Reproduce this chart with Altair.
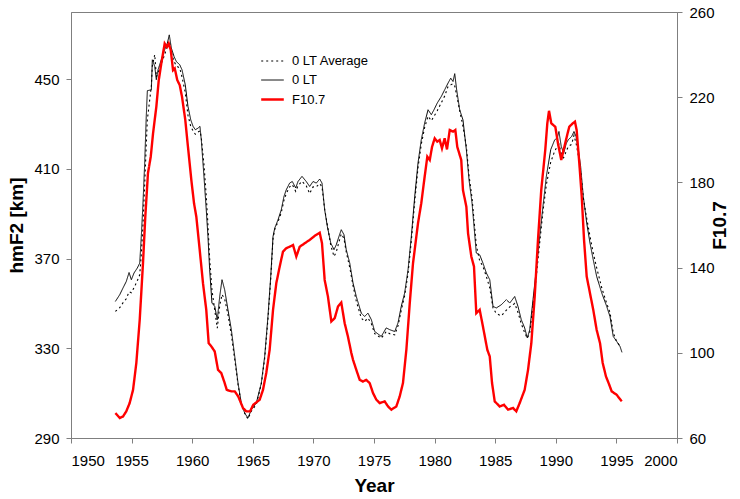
import altair as alt
import pandas as pd

# ---- data ----
years_lt = [1953.66,1954.02,1954.29,1954.56,1954.79,1954.98,1955.2,1955.47,1955.67,1955.8,
1955.94,1956.08,1956.21,1956.3,1956.63,1956.71,1956.91,1957.04,1957.18,1957.45,
1957.73,1957.95,1958.11,1958.28,1958.5,1958.69,1958.97,1959.16,1959.43,1959.65,
1959.88,1960.07,1960.26,1960.48,1960.64,1960.75,1960.97,1961.16,1961.3,1961.44,
1961.63,1961.86,1962.07,1962.27,1962.46,1962.68,1962.95,1963.23,1963.51,1963.78,
1964.05,1964.33,1964.6,1964.88,1965.29,1965.7,1965.98,1966.25,1966.48,1966.67,
1966.81,1967.08,1967.35,1967.57,1967.76,1968.04,1968.26,1968.54,1968.73,1969.06,
1969.41,1969.69,1969.97,1970.24,1970.52,1970.71,1970.93,1971.15,1971.43,1971.7,
1971.89,1972.11,1972.3,1972.52,1972.71,1973.0,1973.27,1973.54,1973.95,1974.23,
1974.5,1974.78,1975.06,1975.6,1976.01,1976.3,1976.71,1976.98,1977.25,1977.53,
1977.81,1978.08,1978.36,1978.63,1978.9,1979.18,1979.46,1979.73,1979.95,1980.22,
1980.55,1980.83,1981.11,1981.33,1981.52,1981.66,1981.82,1982.07,1982.34,1982.62,
1982.84,1983.09,1983.44,1983.72,1983.99,1984.27,1984.55,1984.82,1985.09,1985.5,
1985.92,1986.2,1986.61,1986.88,1987.15,1987.43,1987.65,1987.85,1988.12,1988.39,
1988.67,1988.94,1989.22,1989.58,1989.91,1990.12,1990.26,1990.45,1990.65,1990.87,
1991.03,1991.31,1991.5,1991.67,1991.86,1992.05,1992.27,1992.55,1992.82,1993.09,
1993.37,1993.79,1994.2,1994.47,1994.74,1995.02,1995.3,1995.46]

hmf2_lt = [350.9,353.9,356.9,359.8,363.8,360.6,363.6,365.8,368.0,379.9,
394.8,412.6,433.4,444.9,445.3,458.7,455.7,449.8,454.2,458.7,
463.2,466.1,469.8,463.9,460.2,457.9,456.5,454.2,447.5,437.9,
431.9,429.0,427.5,428.2,429.0,423.0,406.7,391.8,379.9,365.1,
350.2,348.7,342.8,353.1,360.6,356.1,347.2,338.3,326.4,314.5,
305.6,301.1,298.9,302.6,305.6,314.5,326.4,344.2,362.1,379.9,
383.6,387.3,391.8,397.7,400.7,403.7,404.4,401.5,404.4,406.7,
404.4,402.2,404.4,403.7,405.5,403.7,391.8,384.4,377.0,374.0,
376.2,379.9,382.9,380.7,374.0,368.0,359.1,353.1,345.7,344.2,
345.7,342.8,337.5,335.3,339.1,338.3,337.5,341.3,348.7,354.7,
365.1,379.9,397.7,412.6,423.0,430.5,436.4,434.2,436.4,439.4,
442.3,445.3,448.3,450.5,449.0,452.5,445.3,436.4,431.9,418.6,
405.2,394.8,372.5,371.7,368.0,363.6,360.6,348.7,348.0,349.4,
351.7,350.2,353.1,348.7,342.8,339.1,334.6,338.3,351.7,365.1,
379.9,393.3,406.7,418.6,423.0,423.8,426.7,420.0,417.1,421.5,
423.0,424.5,426.7,424.5,418.6,411.1,397.7,385.9,377.0,369.5,
362.1,354.7,348.7,344.2,335.3,333.1,330.8,328.2]

hmf2_avg = [346.5,348.1,350.3,352.1,355.2,354.8,357.0,360.1,362.8,371.7,
385.0,403.0,420.8,432.0,447.0,456.0,461.0,451.0,453.0,457.0,
461.0,465.0,467.0,462.0,458.0,456.0,455.0,451.0,444.0,434.0,
429.0,427.0,425.5,426.5,427.0,424.0,412.0,398.0,385.0,370.0,
356.0,347.0,339.0,349.0,354.0,352.0,345.0,336.0,325.0,314.0,
305.0,301.0,298.5,302.0,305.0,314.0,325.5,343.0,361.0,379.0,
383.0,386.5,390.5,396.0,399.0,402.0,403.0,400.0,402.5,404.5,
402.5,399.0,402.0,402.0,403.5,402.0,392.0,385.0,376.0,371.0,
373.0,377.5,381.0,379.0,373.0,366.0,358.0,351.0,343.5,342.0,
343.5,341.0,336.5,334.5,337.5,336.5,336.0,340.0,347.0,353.5,
363.5,378.0,395.5,410.5,421.0,428.5,433.5,431.5,433.5,436.0,
439.5,442.5,446.8,447.5,448.0,447.0,443.0,436.0,429.0,420.0,
407.0,397.0,376.0,369.0,366.5,362.0,357.0,348.0,345.5,344.5,
347.0,348.5,350.0,346.0,341.0,337.0,334.5,337.0,349.0,362.0,
377.0,391.0,403.0,413.0,418.0,420.0,421.0,417.0,415.0,418.0,
420.0,421.0,425.0,421.5,416.0,409.0,397.0,388.0,380.0,372.5,
366.0,357.0,350.0,346.0,337.0,333.0,331.0]

years_f = [1953.66,1954.02,1954.29,1954.56,1954.84,1955.12,1955.39,1955.67,1955.94,1956.13,
1956.35,1956.58,1956.77,1957.04,1957.24,1957.45,1957.73,1957.92,1958.06,1958.23,
1958.42,1958.56,1958.77,1958.97,1959.16,1959.43,1959.65,1959.93,1960.15,1960.34,
1960.62,1960.89,1961.16,1961.36,1961.58,1961.86,1962.13,1962.4,1962.68,1962.85,
1963.23,1963.51,1963.8,1964.19,1964.46,1964.77,1965.04,1965.57,1965.84,1966.11,
1966.39,1966.67,1966.94,1967.22,1967.49,1967.76,1968.04,1968.32,1968.59,1968.87,
1969.28,1969.69,1970.11,1970.52,1970.71,1970.93,1971.2,1971.48,1971.76,1972.03,
1972.3,1972.58,1972.85,1973.13,1973.27,1973.54,1973.82,1974.09,1974.36,1974.64,
1974.92,1975.19,1975.47,1975.88,1976.16,1976.43,1976.84,1977.12,1977.39,1977.67,
1977.95,1978.22,1978.63,1978.9,1979.18,1979.4,1979.6,1979.79,1980.01,1980.22,
1980.42,1980.61,1980.83,1981.02,1981.25,1981.52,1981.71,1981.87,1982.2,1982.34,
1982.62,1982.76,1983.03,1983.25,1983.44,1983.72,1983.99,1984.35,1984.55,1984.74,
1984.96,1985.37,1985.73,1986.06,1986.47,1986.74,1987.02,1987.43,1987.71,1987.98,
1988.26,1988.53,1988.8,1989.13,1989.3,1989.44,1989.63,1989.96,1990.18,1990.45,
1990.68,1990.95,1991.11,1991.39,1991.58,1991.72,1991.94,1992.14,1992.33,1992.55,
1992.82,1993.09,1993.37,1993.65,1993.87,1994.14,1994.41,1994.61,1995.02,1995.44]

f107 = [71.7,69.4,70.1,72.5,76.4,82.6,95.2,115.5,142.1,163.9,
184.3,192.1,203.0,215.5,228.0,235.8,245.2,243.6,245.2,242.1,
232.7,233.5,228.0,225.7,220.2,209.3,196.7,181.1,170.2,163.9,
148.3,132.7,120.2,104.5,103.0,100.6,92.0,90.5,85.8,82.6,
81.9,81.9,79.5,74.1,72.5,72.5,75.6,78.0,82.6,90.5,
101.4,120.2,132.7,140.5,147.5,149.1,149.8,150.6,145.2,149.8,
151.4,153.0,154.9,156.4,151.4,134.2,126.4,114.7,116.3,121.7,
123.6,113.9,107.6,99.9,96.7,92.0,87.3,86.5,87.3,85.8,
81.1,78.0,76.4,77.2,74.8,73.3,74.8,79.5,85.8,101.4,
123.3,142.1,160.8,170.2,182.7,192.1,190.5,196.7,200.7,199.1,
199.9,196.0,200.7,195.5,204.6,203.8,204.6,196.7,190.5,176.4,
168.6,156.1,145.2,140.5,118.6,120.2,112.3,101.4,98.3,85.8,
77.2,74.8,75.6,73.3,74.1,72.5,76.4,82.6,92.0,104.5,
126.4,153.0,176.4,195.2,207.7,213.6,207.7,206.1,198.3,190.5,
196.1,202.5,206.1,207.7,208.5,204.6,189.0,173.3,153.0,135.8,
128.0,120.2,110.8,104.5,95.2,88.9,85.0,81.9,80.3,77.2]

series_names = ["0 LT Average", "0 LT", "F10.7"]
x_ticks = list(range(1950, 2001, 5))
left_ticks = [290, 330, 370, 410, 450]
right_ticks = [60, 100, 140, 180, 220, 260]

# ---- tables ----
n_avg = min(len(hmf2_avg), len(years_lt))
df_black = pd.concat([
    pd.DataFrame({"year": years_lt[:n_avg], "value": hmf2_avg[:n_avg], "series": series_names[0]}),
    pd.DataFrame({"year": years_lt, "value": hmf2_lt, "series": series_names[1]}),
], ignore_index=True)
df_red = pd.DataFrame({"year": years_f, "value": f107, "series": series_names[2]})

FONT = "Liberation Sans"

leg = alt.Legend(
    title=None, orient="none", legendX=189, legendY=37, padding=0,
    symbolType="stroke", symbolSize=510, labelFontSize=13, labelFont=FONT,
    labelColor="black", labelOffset=7, rowPadding=0,
)

color = alt.Color("series:N", scale=alt.Scale(domain=series_names, range=["black", "black", "red"]), legend=leg)
dash = alt.StrokeDash("series:N", scale=alt.Scale(domain=series_names, range=[[2, 3], [1, 0], [1, 0]]), legend=leg)
width = alt.StrokeWidth("series:N", scale=alt.Scale(type="ordinal", domain=series_names, range=[1.1, 1.0, 2.4]), legend=leg)

x_enc = alt.X("year:Q", scale=alt.Scale(domain=[1950, 2000], nice=False),
              axis=alt.Axis(values=x_ticks, format="d", title="Year", labelPadding=10, titlePadding=8))

black = alt.Chart(df_black).mark_line().encode(
    x=x_enc,
    y=alt.Y("value:Q", scale=alt.Scale(domain=[290, 480], nice=False, zero=False),
            axis=alt.Axis(values=left_ticks, title="hmF2 [km]", orient="left", labelPadding=7, titlePadding=7)),
    color=color, strokeDash=dash, strokeWidth=width,
    detail="series:N",
)

red = alt.Chart(df_red).mark_line().encode(
    x=x_enc,
    y=alt.Y("value:Q", scale=alt.Scale(domain=[60, 260], nice=False, zero=False),
            axis=alt.Axis(values=right_ticks, title="F10.7", orient="right", labelPadding=7,
                          titlePadding=15, titleAngle=270)),
    color=color, strokeDash=dash, strokeWidth=width,
)

chart = alt.layer(black, red).resolve_scale(y="independent").properties(
    width=606, height=426,
    autosize=alt.AutoSizeParams(type="none"),
    padding={"left": 71, "top": 12, "right": 63, "bottom": 61},
    background="white",
).configure(font=FONT).configure_axis(
    grid=False, domainColor="#7f7f7f", tickColor="#7f7f7f", tickSize=5,
    labelFont=FONT, labelFontSize=15, labelColor="black",
    titleFont=FONT, titleFontSize=19, titleFontWeight="bold", titleColor="black",
).configure_view(stroke="#7f7f7f", strokeWidth=1)

chart.save("out.html", embed_options={"renderer": "svg", "actions": False})
